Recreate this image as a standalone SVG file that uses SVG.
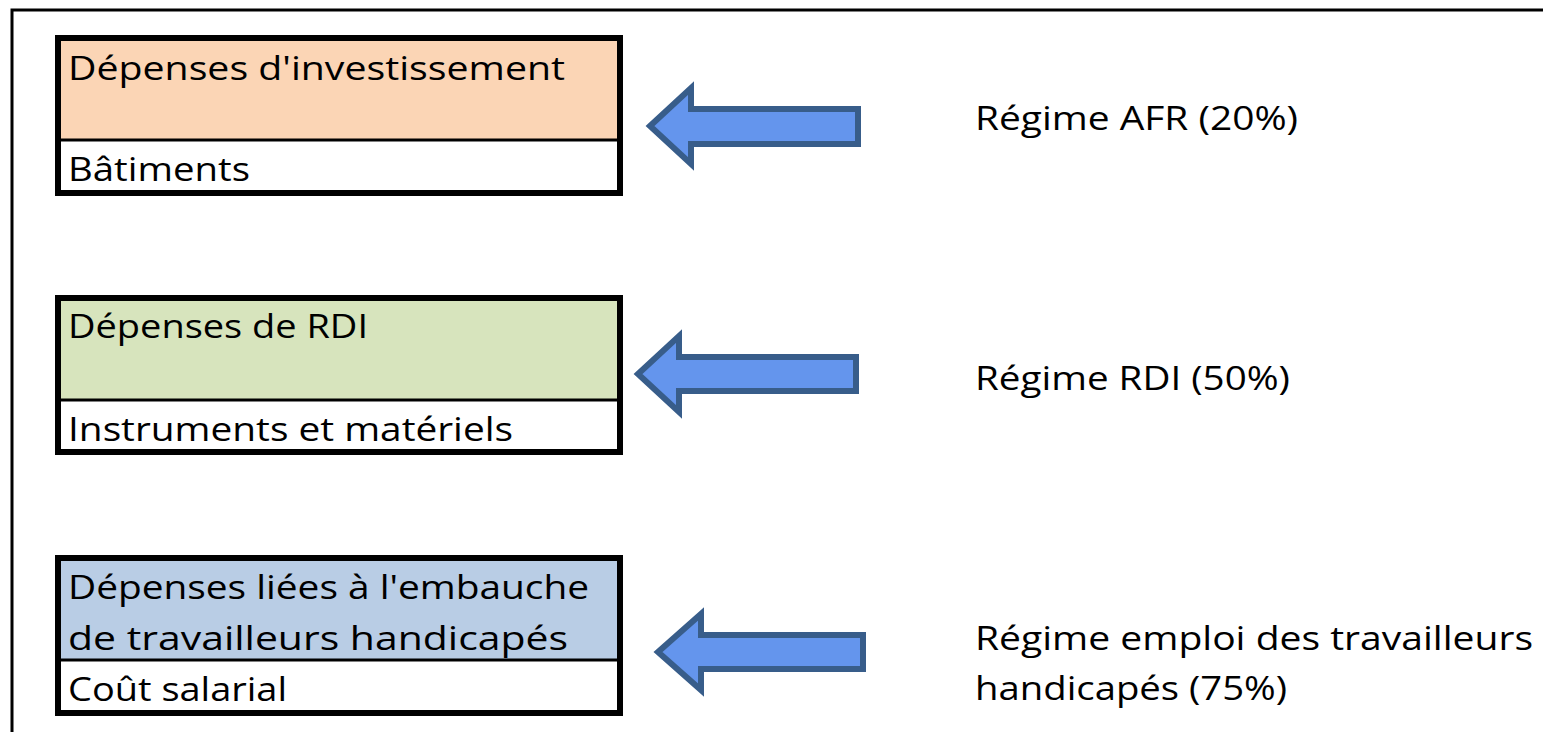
<svg xmlns="http://www.w3.org/2000/svg" width="1543" height="732" viewBox="0 0 1543 732">
<style>
.t{font-family:"Open Sans","Liberation Sans",Arial,sans-serif;font-size:33px;fill:#000}
.box{stroke:#000;stroke-width:6;fill:none}
.div{stroke:#000;stroke-width:3}
.arr{fill:#6495ED;stroke:#385D8A;stroke-width:6;stroke-linejoin:miter}
</style>
<rect width="1543" height="732" fill="#fff"/>
<path d="M12 732 V10 H1543" fill="none" stroke="#000" stroke-width="3"/>
<g id="node-investissement">
<rect x="58" y="38" width="562" height="102" fill="#FBD5B5"/>
<rect x="58" y="140" width="562" height="53" fill="#fff"/>
<line class="div" x1="58" y1="140" x2="620" y2="140"/>
<rect class="box" x="58" y="38" width="562" height="155"/>
<text class="t" x="68" y="80" textLength="497" lengthAdjust="spacingAndGlyphs">Dépenses d'investissement</text>
<text class="t" x="68" y="181" textLength="182" lengthAdjust="spacingAndGlyphs">Bâtiments</text>
</g>
<g id="node-rdi">
<rect x="58" y="298" width="562" height="102" fill="#D7E4BD"/>
<rect x="58" y="400" width="562" height="52" fill="#fff"/>
<line class="div" x1="58" y1="400" x2="620" y2="400"/>
<rect class="box" x="58" y="298" width="562" height="154"/>
<text class="t" x="68" y="338" textLength="300" lengthAdjust="spacingAndGlyphs">Dépenses de RDI</text>
<text class="t" x="68" y="441" textLength="445" lengthAdjust="spacingAndGlyphs">Instruments et matériels</text>
</g>
<g id="node-handicapes">
<rect x="58" y="558" width="562" height="102" fill="#B9CDE5"/>
<rect x="58" y="660" width="562" height="53" fill="#fff"/>
<line class="div" x1="58" y1="660" x2="620" y2="660"/>
<rect class="box" x="58" y="558" width="562" height="155"/>
<text class="t" x="68" y="599" textLength="521" lengthAdjust="spacingAndGlyphs">Dépenses liées à l'embauche</text>
<text class="t" x="68" y="650" textLength="500" lengthAdjust="spacingAndGlyphs">de travailleurs handicapés</text>
<text class="t" x="68" y="701" textLength="219" lengthAdjust="spacingAndGlyphs">Coût salarial</text>
</g>
<g id="node-regime-afr">
<text class="t" x="975" y="130" textLength="323" lengthAdjust="spacingAndGlyphs">Régime AFR (20%)</text>
</g>
<g id="node-regime-rdi">
<text class="t" x="975" y="390" textLength="315" lengthAdjust="spacingAndGlyphs">Régime RDI (50%)</text>
</g>
<g id="node-regime-emploi">
<text class="t" x="975" y="650" textLength="558" lengthAdjust="spacingAndGlyphs">Régime emploi des travailleurs</text>
<text class="t" x="975" y="700" textLength="312" lengthAdjust="spacingAndGlyphs">handicapés (75%)</text>
</g>
<g id="connectors">
<path class="arr" d="M650 126 L691 88 L691 109 L858 109 L858 144 L691 144 L691 164 Z"/>
<path class="arr" d="M638 374 L679 336 L679 357 L856 357 L856 391 L679 391 L679 412 Z"/>
<path class="arr" d="M658 652 L701 614 L701 635 L863 635 L863 669 L701 669 L701 690 Z"/>
</g>
</svg>
